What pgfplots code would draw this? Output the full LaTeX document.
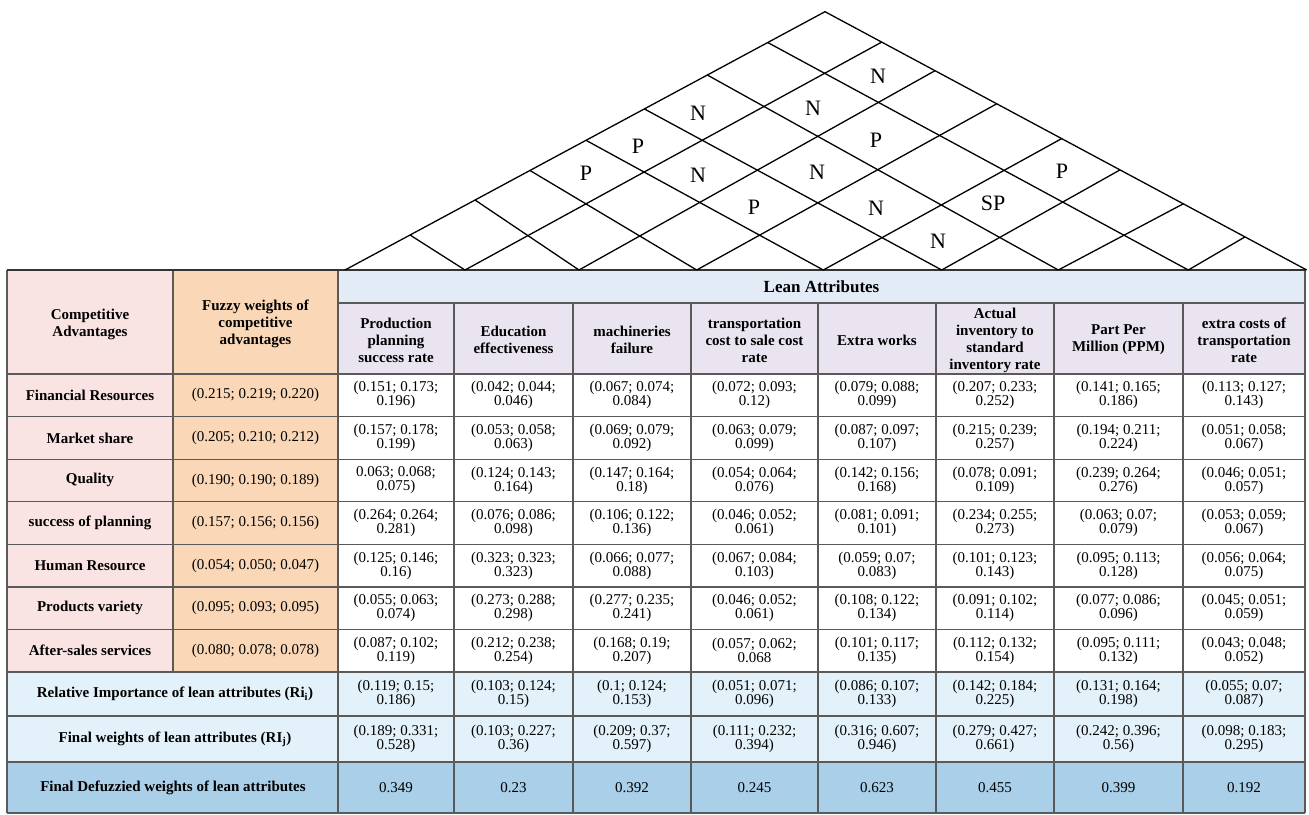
\documentclass[border=0pt]{standalone}
\usepackage{fontspec}
\setmainfont{Liberation Serif}
\usepackage{pgfplots}
\pgfplotsset{compat=1.18}
\usepackage{pgfplotstable}

\definecolor{advpink}{HTML}{F9E3E3}
\definecolor{fuzzy}{HTML}{FAD8B7}
\definecolor{leanhead}{HTML}{E2EBF6}
\definecolor{attrhead}{HTML}{EAE4F0}
\definecolor{sumrow}{HTML}{E3F2FA}
\definecolor{defuzz}{HTML}{AACFE8}
\definecolor{rulec}{HTML}{5A5A5A}

% pgfplots splits point meta at ; so the triples use these instead
\protected\def\sc{;}
\protected\def\lp{(}
\protected\def\rp{)}
\protected\def\nl{\\}

% lean attribute cells, one row per line, columns a..h = attributes 1..8
\pgfplotstableread[col sep=comma]{
y,a,b,c,d,e,f,g,h
395.3,\lp0.151\sc{} 0.173\sc\nl 0.196\rp,\lp0.042\sc{} 0.044\sc\nl 0.046\rp,\lp0.067\sc{} 0.074\sc\nl 0.084\rp,\lp0.072\sc{} 0.093\sc\nl 0.12\rp,\lp0.079\sc{} 0.088\sc\nl 0.099\rp,\lp0.207\sc{} 0.233\sc\nl 0.252\rp,\lp0.141\sc{} 0.165\sc\nl 0.186\rp,\lp0.113\sc{} 0.127\sc\nl 0.143\rp
437.9,\lp0.157\sc{} 0.178\sc\nl 0.199\rp,\lp0.053\sc{} 0.058\sc\nl 0.063\rp,\lp0.069\sc{} 0.079\sc\nl 0.092\rp,\lp0.063\sc{} 0.079\sc\nl 0.099\rp,\lp0.087\sc{} 0.097\sc\nl 0.107\rp,\lp0.215\sc{} 0.239\sc\nl 0.257\rp,\lp0.194\sc{} 0.211\sc\nl 0.224\rp,\lp0.051\sc{} 0.058\sc\nl 0.067\rp
480.4,0.063\sc{} 0.068\sc\nl 0.075\rp,\lp0.124\sc{} 0.143\sc\nl 0.164\rp,\lp0.147\sc{} 0.164\sc\nl 0.18\rp,\lp0.054\sc{} 0.064\sc\nl 0.076\rp,\lp0.142\sc{} 0.156\sc\nl 0.168\rp,\lp0.078\sc{} 0.091\sc\nl 0.109\rp,\lp0.239\sc{} 0.264\sc\nl 0.276\rp,\lp0.046\sc{} 0.051\sc\nl 0.057\rp
523.0,\lp0.264\sc{} 0.264\sc\nl 0.281\rp,\lp0.076\sc{} 0.086\sc\nl 0.098\rp,\lp0.106\sc{} 0.122\sc\nl 0.136\rp,\lp0.046\sc{} 0.052\sc\nl 0.061\rp,\lp0.081\sc{} 0.091\sc\nl 0.101\rp,\lp0.234\sc{} 0.255\sc\nl 0.273\rp,\lp0.063\sc{} 0.07\sc\nl 0.079\rp,\lp0.053\sc{} 0.059\sc\nl 0.067\rp
565.6,\lp0.125\sc{} 0.146\sc\nl 0.16\rp,\lp0.323\sc{} 0.323\sc\nl 0.323\rp,\lp0.066\sc{} 0.077\sc\nl 0.088\rp,\lp0.067\sc{} 0.084\sc\nl 0.103\rp,\lp0.059\sc{} 0.07\sc\nl 0.083\rp,\lp0.101\sc{} 0.123\sc\nl 0.143\rp,\lp0.095\sc{} 0.113\sc\nl 0.128\rp,\lp0.056\sc{} 0.064\sc\nl 0.075\rp
608.1,\lp0.055\sc{} 0.063\sc\nl 0.074\rp,\lp0.273\sc{} 0.288\sc\nl 0.298\rp,\lp0.277\sc{} 0.235\sc\nl 0.241\rp,\lp0.046\sc{} 0.052\sc\nl 0.061\rp,\lp0.108\sc{} 0.122\sc\nl 0.134\rp,\lp0.091\sc{} 0.102\sc\nl 0.114\rp,\lp0.077\sc{} 0.086\sc\nl 0.096\rp,\lp0.045\sc{} 0.051\sc\nl 0.059\rp
650.7,\lp0.087\sc{} 0.102\sc\nl 0.119\rp,\lp0.212\sc{} 0.238\sc\nl 0.254\rp,\lp0.168\sc{} 0.19\sc\nl 0.207\rp,\lp0.057\sc{} 0.062\sc\nl 0.068,\lp0.101\sc{} 0.117\sc\nl 0.135\rp,\lp0.112\sc{} 0.132\sc\nl 0.154\rp,\lp0.095\sc{} 0.111\sc\nl 0.132\rp,\lp0.043\sc{} 0.048\sc\nl 0.052\rp
694.0,\lp0.119\sc{} 0.15\sc\nl 0.186\rp,\lp0.103\sc{} 0.124\sc\nl 0.15\rp,\lp0.1\sc{} 0.124\sc\nl 0.153\rp,\lp0.051\sc{} 0.071\sc\nl 0.096\rp,\lp0.086\sc{} 0.107\sc\nl 0.133\rp,\lp0.142\sc{} 0.184\sc\nl 0.225\rp,\lp0.131\sc{} 0.164\sc\nl 0.198\rp,\lp0.055\sc{} 0.07\sc\nl 0.087\rp
739.0,\lp0.189\sc{} 0.331\sc\nl 0.528\rp,\lp0.103\sc{} 0.227\sc\nl 0.36\rp,\lp0.209\sc{} 0.37\sc\nl 0.597\rp,\lp0.111\sc{} 0.232\sc\nl 0.394\rp,\lp0.316\sc{} 0.607\sc\nl 0.946\rp,\lp0.279\sc{} 0.427\sc\nl 0.661\rp,\lp0.242\sc{} 0.396\sc\nl 0.56\rp,\lp0.098\sc{} 0.183\sc\nl 0.295\rp
787.5,0.349,0.23,0.392,0.245,0.623,0.455,0.399,0.192
}\leancells

\pgfplotstableread[col sep=comma]{
y,name,weight
395.3,Financial Resources,\lp0.215\sc{} 0.219\sc{} 0.220\rp
437.9,Market share,\lp0.205\sc{} 0.210\sc{} 0.212\rp
480.4,Quality,\lp0.190\sc{} 0.190\sc{} 0.189\rp
523.0,success of planning,\lp0.157\sc{} 0.156\sc{} 0.156\rp
565.6,Human Resource,\lp0.054\sc{} 0.050\sc{} 0.047\rp
608.1,Products variety,\lp0.095\sc{} 0.093\sc{} 0.095\rp
650.7,After-sales services,\lp0.080\sc{} 0.078\sc{} 0.078\rp
}\advantages

% correlation roof
\pgfplotstableread[col sep=comma]{
x,y,rel
698,113,N
813,108,N
638,146,P
586,173,P
698,175,N
817,172,N
754,207,P
878,76,N
876,140,P
1062,171,P
876,208,N
993,203,SP
938,241,N
}\roof

\newcommand{\fillbox}[5]{\addplot[fill=#5, draw=none] coordinates {(#1,#2) (#3,#2) (#3,#4) (#1,#4)};}
\newcommand{\tabh}[3]{\addplot[rulec, line width=1.2pt] coordinates {(#2,#1) (#3,#1)};}
\newcommand{\tabv}[3]{\addplot[rulec, line width=1.2pt] coordinates {(#1,#2) (#1,#3)};}
\newcommand{\roofline}[4]{\addplot[black, line width=1.3pt] coordinates {(#1,#2) (#3,#4)};}

\pgfplotsset{
  celltext/.style={only marks, mark=*, mark size=0pt, mark options={draw=none, fill=none},
    point meta=explicit symbolic, nodes near coords={\pgfplotspointmeta},
    nodes near coords style={anchor=center, align=center, inner sep=0pt, text=black,
      font=\fontsize{15}{14}\selectfont}},
  boldtext/.style={celltext, nodes near coords style={font=\fontsize{15}{17}\selectfont\bfseries}},
}

\begin{document}
\begin{tikzpicture}
\begin{axis}[x=1pt, y=1pt, y dir=reverse, xmin=0, xmax=1309, ymin=0, ymax=814,
  hide axis, clip=false]
% background and cell fills
\fillbox{0}{0}{1309}{814}{white}
\fillbox{7}{270}{173}{672}{advpink}
\fillbox{173}{270}{338}{672}{fuzzy}
\fillbox{338}{270}{1305}{303}{leanhead}
\fillbox{338}{303}{1305}{374}{attrhead}
\fillbox{7}{672}{1305}{762}{sumrow}
\fillbox{7}{762}{1305}{813}{defuzz}

% table rules
\tabh{303}{338}{1305}
\tabh{374}{7}{1305}
\tabh{416.6}{7}{1305}
\tabh{459.1}{7}{1305}
\tabh{501.7}{7}{1305}
\tabh{544.3}{7}{1305}
\tabh{586.9}{7}{1305}
\tabh{629.4}{7}{1305}
\tabh{672}{7}{1305}
\tabh{716}{7}{1305}
\tabh{762}{7}{1305}
\tabh{813}{7}{1305}
\tabv{7}{270}{813}
\tabv{173}{270}{672}
\tabv{338}{270}{813}
\tabv{454}{303}{813}
\tabv{573}{303}{813}
\tabv{691}{303}{813}
\tabv{818}{303}{813}
\tabv{936}{303}{813}
\tabv{1054}{303}{813}
\tabv{1183}{303}{813}
\tabv{1305}{270}{813}
\addplot[black!80, line width=2pt] coordinates {(7,270) (1306,270)};

% roof
\addplot[black, line width=1.3pt] coordinates {(345,270) (825,11.7) (1306.7,270)};
\roofline{465}{270}{410}{235.0}
\roofline{579}{270}{475}{200.0}
\roofline{696.7}{270}{530}{170.5}
\roofline{823.3}{270}{586}{140.3}
\roofline{941.7}{270}{644.3}{108.9}
\roofline{1058.3}{270}{707.3}{75.0}
\roofline{1188.3}{270}{767.7}{42.5}
\roofline{465}{270}{881.7}{42.1}
\roofline{579}{270}{935}{70.7}
\roofline{696.7}{270}{996.7}{103.8}
\roofline{823.3}{270}{1061.7}{138.6}
\roofline{941.7}{270}{1120}{169.9}
\roofline{1058.3}{270}{1183.3}{203.8}
\roofline{1188.3}{270}{1245}{236.9}
\addplot[celltext, nodes near coords style={font=\fontsize{22}{22}\selectfont}]
  table[x=x, y=y, meta=rel] {\roof};

% headers
\node[align=center, font=\fontsize{15}{17}\selectfont\bfseries] at (axis cs:90,324) {Competitive\\Advantages};
\node[align=center, font=\fontsize{15}{17}\selectfont\bfseries] at (axis cs:255.5,324) {Fuzzy weights of\\competitive\\advantages};
\node[font=\fontsize{17}{19}\selectfont\bfseries] at (axis cs:821.5,287) {Lean Attributes};
\node[align=center, font=\fontsize{15}{17}\selectfont\bfseries] at (axis cs:396,340) {Production\\planning\\success rate};
\node[align=center, font=\fontsize{15}{17}\selectfont\bfseries] at (axis cs:513.5,340) {Education\\effectiveness};
\node[align=center, font=\fontsize{15}{17}\selectfont\bfseries] at (axis cs:632,340) {machineries\\failure};
\node[align=center, font=\fontsize{15}{17}\selectfont\bfseries] at (axis cs:754.5,340) {transportation\\cost to sale cost\\rate};
\node[align=center, font=\fontsize{15}{17}\selectfont\bfseries] at (axis cs:877,340) {Extra works};
\node[align=center, font=\fontsize{15}{17}\selectfont\bfseries] at (axis cs:995,340) {Actual\\inventory to\\standard\\inventory rate};
\node[align=center, font=\fontsize{15}{17}\selectfont\bfseries] at (axis cs:1118.5,340) {Part Per\\Million (PPM)};
\node[align=center, font=\fontsize{15}{17}\selectfont\bfseries] at (axis cs:1244,340) {extra costs of\\transportation\\rate};
\node[font=\fontsize{15}{17}\selectfont\bfseries] at (axis cs:175,694) {Relative Importance of lean attributes (Ri\textsubscript{i})};
\node[font=\fontsize{15}{17}\selectfont\bfseries] at (axis cs:175,739) {Final weights of lean attributes (RI\textsubscript{j})};
\node[font=\fontsize{15}{17}\selectfont\bfseries] at (axis cs:173,787.5) {Final Defuzzied weights of lean attributes};

% competitive advantages and their fuzzy weights
\addplot[boldtext] table[x expr=90, y=y, meta=name] {\advantages};
\addplot[celltext] table[x expr=255.5, y=y, meta=weight] {\advantages};

% lean attribute values
\addplot[celltext] table[x expr=396, y=y, meta=a] {\leancells};
\addplot[celltext] table[x expr=513.5, y=y, meta=b] {\leancells};
\addplot[celltext] table[x expr=632, y=y, meta=c] {\leancells};
\addplot[celltext] table[x expr=754.5, y=y, meta=d] {\leancells};
\addplot[celltext] table[x expr=877, y=y, meta=e] {\leancells};
\addplot[celltext] table[x expr=995, y=y, meta=f] {\leancells};
\addplot[celltext] table[x expr=1118.5, y=y, meta=g] {\leancells};
\addplot[celltext] table[x expr=1244, y=y, meta=h] {\leancells};
\end{axis}
\end{tikzpicture}
\end{document}
